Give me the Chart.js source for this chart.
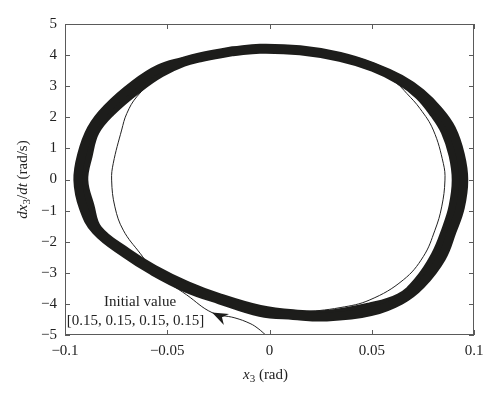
<!DOCTYPE html>
<html>
<head>
<meta charset="utf-8">
<script src="https://cdn.jsdelivr.net/npm/chart.js@4.4.0/dist/chart.umd.min.js"></script>
<style>
  body { margin: 0; background: #fff; }
  #wrap { width: 500px; height: 401px; }
</style>
</head>
<body>
<div id="wrap"><canvas id="phaseChart" width="500" height="401"></canvas></div>
<script>
// limit cycle band: outer and inner edge trajectories (x3 in rad, dx3/dt in rad/s)
const outerCycleX = [-0.0179, -0.0047, 0.0149, 0.0345, 0.0506, 0.0640, 0.0741, 0.0826, 0.0890, 0.0933, 0.0950, 0.0933, 0.0893, 0.0841, 0.0741, 0.0642, 0.0495, 0.0280, 0.0116, -0.0047, -0.0244, -0.0408, -0.0572, -0.0702, -0.0848, -0.0910, -0.0937, -0.0918, -0.0871, -0.0794, -0.0658, -0.0540, -0.0422, -0.0340, -0.0179];
const outerCycleY = [4.14, 4.22, 4.17, 3.96, 3.63, 3.23, 2.78, 2.22, 1.62, 0.80, -0.02, -0.90, -1.66, -2.52, -3.38, -3.88, -4.25, -4.42, -4.37, -4.27, -3.87, -3.49, -2.94, -2.40, -1.65, -0.91, -0.02, 0.81, 1.63, 2.29, 3.07, 3.56, 3.80, 3.94, 4.14];
const innerCycleX = [-0.0179, -0.0047, 0.0149, 0.0345, 0.0506, 0.0636, 0.0731, 0.0806, 0.0859, 0.0898, 0.0913, 0.0898, 0.0864, 0.0810, 0.0726, 0.0635, 0.0488, 0.0279, 0.0116, -0.0046, -0.0241, -0.0402, -0.0565, -0.0694, -0.0839, -0.0878, -0.0908, -0.0887, -0.0852, -0.0776, -0.0641, -0.0531, -0.0421, -0.0339, -0.0179];
const innerCycleY = [4.11, 4.19, 4.14, 3.93, 3.61, 3.19, 2.71, 2.11, 1.55, 0.77, -0.02, -0.86, -1.59, -2.45, -3.28, -3.80, -4.10, -4.34, -4.32, -4.18, -3.81, -3.41, -2.88, -2.35, -1.60, -0.84, -0.02, 0.76, 1.55, 2.17, 2.93, 3.43, 3.77, 3.91, 4.11];

// transient from the initial value [0.15, 0.15, 0.15, 0.15]
const transientX = [-0.0017, -0.0056, -0.0095, -0.0169, -0.0281, -0.0405, -0.0552, -0.0633, -0.0715, -0.0756, -0.0772, -0.0764, -0.0723, -0.0698, -0.0649, -0.0552, -0.0423, -0.0178, -0.0002, 0.0149, 0.0345, 0.0506, 0.0622, 0.0671, 0.0736, 0.0801, 0.0850, 0.0858, 0.0842, 0.0809, 0.0752, 0.0654, 0.0491, 0.0345, 0.0149];
const transientY = [-5.01, -4.79, -4.63, -4.45, -4.28, -3.71, -3.02, -2.37, -1.63, -0.88, -0.02, 0.52, 1.59, 2.12, 2.66, 3.25, 3.72, 4.07, 4.14, 4.09, 3.90, 3.58, 3.09, 2.77, 2.28, 1.59, 0.52, -0.02, -0.88, -1.63, -2.48, -3.23, -3.87, -4.12, -4.28];
const arrowIndex = 4;

const xTicks = [-0.1, -0.05, 0, 0.05, 0.1];
const xTickLabels = ["\u22120.1", "\u22120.05", "0", "0.05", "0.1"];
const yTicks = [-5, -4, -3, -2, -1, 0, 1, 2, 3, 4, 5];
const yTickLabels = ["\u22125", "\u22124", "\u22123", "\u22122", "\u22121", "0", "1", "2", "3", "4", "5"];

// annotation text, anchored in data units
const noteLines = ["Initial value", "[0.15, 0.15, 0.15, 0.15]"];
const noteX = [-0.0633, -0.0655];
const noteY = [-3.93, -4.54];

const SERIF = "'Liberation Serif', 'DejaVu Serif', serif";
const INK = "#1d1d1b";

const toPoints = (xs, ys) => xs.map((x, i) => ({ x: x, y: ys[i] }));

function drawRich(ctx, parts, size) {
  // parts drawn left to right, centred on current origin
  let total = 0;
  parts.forEach(p => {
    ctx.font = (p.italic ? "italic " : "") + (p.sub ? size - 4 : size) + "px " + SERIF;
    p.w = ctx.measureText(p.t).width;
    total += p.w;
  });
  let x = -total / 2;
  parts.forEach(p => {
    ctx.font = (p.italic ? "italic " : "") + (p.sub ? size - 4 : size) + "px " + SERIF;
    ctx.fillText(p.t, x, p.sub ? 4 : 0);
    x += p.w;
  });
}

const decorations = {
  id: "decorations",
  afterDraw(chart) {
    const { ctx, chartArea: a, scales: { x, y } } = chart;
    ctx.save();

    // frame and inward ticks
    ctx.strokeStyle = "#5a5a5a";
    ctx.lineWidth = 1;
    ctx.strokeRect(a.left + 0.5, a.top + 0.5, a.right - a.left - 1, a.bottom - a.top - 1);
    ctx.beginPath();
    xTicks.forEach(v => {
      const px = Math.round(x.getPixelForValue(v)) + 0.5;
      ctx.moveTo(px, a.bottom); ctx.lineTo(px, a.bottom - 5);
      ctx.moveTo(px, a.top); ctx.lineTo(px, a.top + 5);
    });
    yTicks.forEach(v => {
      const py = Math.round(y.getPixelForValue(v)) + 0.5;
      ctx.moveTo(a.left, py); ctx.lineTo(a.left + 5, py);
      ctx.moveTo(a.right, py); ctx.lineTo(a.right - 5, py);
    });
    ctx.stroke();

    // arrowhead on the transient
    const pts = chart.getDatasetMeta(2).data;
    const tip = pts[arrowIndex], prev = pts[arrowIndex - 1], next = pts[arrowIndex + 1];
    let dx = next.x - prev.x, dy = next.y - prev.y;
    const len = Math.hypot(dx, dy);
    dx /= len; dy /= len;
    const L = 16, W = 6, N = 5;
    ctx.fillStyle = INK;
    ctx.beginPath();
    ctx.moveTo(tip.x, tip.y);
    ctx.lineTo(tip.x - dx * L - dy * W, tip.y - dy * L + dx * W);
    ctx.lineTo(tip.x - dx * (L - N), tip.y - dy * (L - N));
    ctx.lineTo(tip.x - dx * L + dy * W, tip.y - dy * L - dx * W);
    ctx.closePath();
    ctx.fill();

    // note text
    ctx.fillStyle = "#222";
    ctx.font = "15px " + SERIF;
    ctx.textAlign = "center";
    ctx.textBaseline = "middle";
    noteLines.forEach((t, i) => {
      ctx.fillText(t, x.getPixelForValue(noteX[i]), y.getPixelForValue(noteY[i]));
    });

    // axis titles
    ctx.fillStyle = "#222";
    ctx.textAlign = "left";
    ctx.save();
    ctx.translate((a.left + a.right) / 2 - 4, 375);
    drawRich(ctx, [{ t: "x", italic: true }, { t: "3", sub: true }, { t: " (rad)" }], 15);
    ctx.restore();

    ctx.save();
    ctx.translate(23, (a.top + a.bottom) / 2);
    ctx.rotate(-Math.PI / 2);
    drawRich(ctx, [{ t: "dx", italic: true }, { t: "3", sub: true }, { t: "/" }, { t: "dt", italic: true }, { t: " (rad/s)" }], 15);
    ctx.restore();

    ctx.restore();
  }
};

const ctx = document.getElementById("phaseChart").getContext("2d");

const bandStyle = {
  showLine: true,
  borderColor: INK,
  borderWidth: 9,
  borderJoinStyle: "round",
  borderCapStyle: "round",
  pointRadius: 0,
  tension: 0.4,
};

new Chart(ctx, {
  type: "scatter",
  data: {
    datasets: [
      Object.assign({ label: "outer", data: toPoints(outerCycleX, outerCycleY) }, bandStyle),
      Object.assign({ label: "inner", data: toPoints(innerCycleX, innerCycleY) }, bandStyle),
      {
        label: "transient",
        data: toPoints(transientX, transientY),
        showLine: true,
        borderColor: "#222",
        borderWidth: 1,
        pointRadius: 0,
        tension: 0.4,
      },
    ],
  },
  options: {
    responsive: false,
    animation: false,
    events: [],
    layout: { padding: { top: 24, right: 26, left: 0, bottom: 0 } },
    plugins: { legend: { display: false }, tooltip: { enabled: false } },
    scales: {
      x: {
        type: "linear",
        min: -0.1,
        max: 0.1,
        afterBuildTicks: s => { s.ticks = xTicks.map(v => ({ value: v })); },
        afterFit: s => { s.height = 66; },
        grid: { display: false, drawTicks: false },
        border: { display: false },
        ticks: {
          callback: (v, i) => xTickLabels[i],
          font: { family: SERIF, size: 15 },
          color: "#222",
          padding: 7,
          maxRotation: 0,
          autoSkip: false,
        },
      },
      y: {
        type: "linear",
        min: -5,
        max: 5,
        afterBuildTicks: s => { s.ticks = yTicks.map(v => ({ value: v })); },
        afterFit: s => { s.width = 65; },
        grid: { display: false, drawTicks: false },
        border: { display: false },
        ticks: {
          callback: (v, i) => yTickLabels[i],
          font: { family: SERIF, size: 15 },
          color: "#222",
          padding: 8,
          autoSkip: false,
        },
      },
    },
  },
  plugins: [decorations],
});
</script>
</body>
</html>
